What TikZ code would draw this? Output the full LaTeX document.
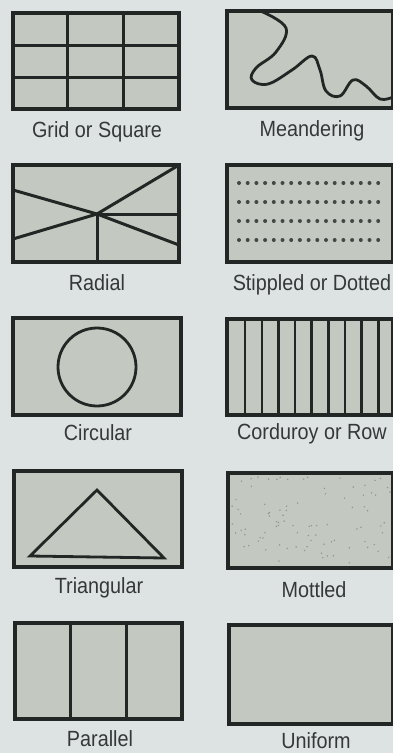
\documentclass[tikz,border=0pt]{standalone}
\usepackage{fontspec}
\setmainfont[FakeStretch=0.9]{Liberation Sans}
\definecolor{bgc}{HTML}{DDE2E2}
\definecolor{fillc}{HTML}{C3C9C0}
\definecolor{linec}{HTML}{222624}
\definecolor{textc}{HTML}{353838}
\definecolor{speck}{HTML}{8E958C}
\begin{document}
\begin{tikzpicture}[x=1pt,y=-1pt,
  panel/.style={fill=fillc,draw=linec,line width=3.2pt},
  mark line/.style={draw=linec,line width=3pt},
  lbl/.style={anchor=base,text=textc,font=\fontsize{22}{26}\selectfont,inner sep=0pt}]
\useasboundingbox (0,0) rectangle (393,753);
\fill[bgc] (0,0) rectangle (393,753);
% Grid
\draw[panel] (13,13) rectangle (179,109);
\draw[mark line] (67,13) -- (67,109) (123,13) -- (123,109) (13,45) -- (179,45) (13,77) -- (179,77);
\node[lbl] (lgrid) at (97,137) {Grid or Square};
% Meandering
\draw[panel] (227,11) rectangle (393,108);
\draw[mark line,line width=2.8pt] plot[smooth,tension=0.65] coordinates {(261.7,11.5) (286,28) (276,52) (256,68) (252,80) (268,84) (292,70) (312,56) (320,70) (326,91) (340,96) (353,80) (366,86) (380,99) (393,97)};
\node[lbl] (lmean) at (312,136) {Meandering};
% Radial
\draw[panel] (13,165) rectangle (179,262);
\coordinate (rc) at (97,214);
\draw[mark line] (13,190) -- (rc) -- (179,245);
\draw[mark line] (13,239) -- (rc) -- (179,165);
\draw[mark line] (rc) -- (179,214);
\draw[mark line] (rc) -- (97,262);
\node[lbl] (lrad) at (97,290) {Radial};
% Stippled
\draw[panel] (227,165) rectangle (393,262);
\foreach \yy in {183,202,221,240}
  \foreach \k in {0,...,16}
    \fill[linec!85] (239+\k*8.7,\yy) circle[radius=2];
\node[lbl] (lstip) at (312,290) {Stippled or Dotted};
% Circular
\draw[panel] (13,318) rectangle (181,415);
\draw[mark line,line width=2.8pt] (97,367) circle[radius=39];
\node[lbl] (lcirc) at (98,440) {Circular};
% Corduroy
\draw[panel] (227,319) rectangle (393,415);
\foreach \k in {1,...,9}
  \draw[mark line,line width=2.6pt] (228.5+\k*16.65,319) -- (228.5+\k*16.65,415);
\node[lbl] (lcord) at (312,439) {Corduroy or Row};
% Triangular
\draw[panel] (14,471) rectangle (182,567);
\draw[mark line,line width=2.8pt] (97,490) -- (164,558) -- (30,556) -- cycle;
\node[lbl] (ltri) at (99,593) {Triangular};
% Mottled
\draw[panel] (228,473) rectangle (393,568);
\pgfmathsetseed{4242}
\foreach \i in {1,...,90}{
  \pgfmathsetmacro\px{232+rnd*158}
  \pgfmathsetmacro\py{477+rnd*87}
  \fill[speck] (\px,\py) circle[radius=0.8];
}
\node[lbl] (lmott) at (314,597) {Mottled};
% Parallel
\draw[panel] (15,623) rectangle (182,719);
\draw[mark line] (70,623) -- (70,719) (126,623) -- (126,719);
\node[lbl] (lpar) at (100,746) {Parallel};
% Uniform
\draw[panel] (229,625) rectangle (393,724);
\node[lbl] (luni) at (316,748) {Uniform};
\end{tikzpicture}
\end{document}
